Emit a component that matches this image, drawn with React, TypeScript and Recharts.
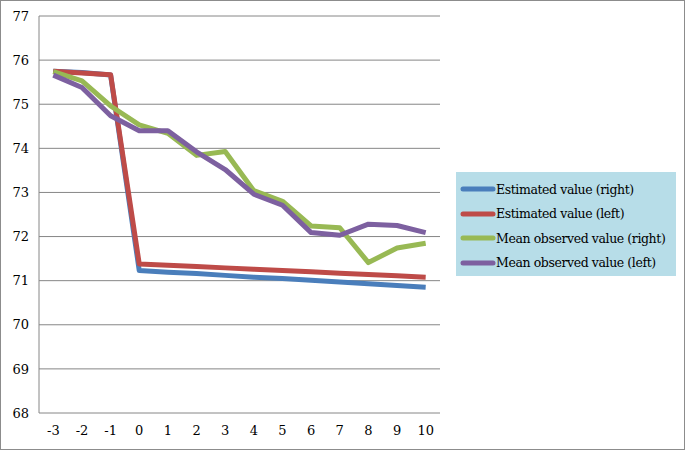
import React from "react";
import { LineChart, Line, XAxis, YAxis, CartesianGrid, Legend } from "recharts";

const periods = [-3, -2, -1, 0, 1, 2, 3, 4, 5, 6, 7, 8, 9, 10];
const estimatedRight = [75.75, 75.72, 75.66, 71.23, 71.19, 71.16, 71.12, 71.08, 71.05, 71.01, 70.97, 70.93, 70.89, 70.85];
const estimatedLeft = [75.75, 75.71, 75.67, 71.38, 71.35, 71.32, 71.29, 71.26, 71.23, 71.2, 71.17, 71.14, 71.11, 71.08];
const meanObservedRight = [75.74, 75.53, 74.96, 74.53, 74.34, 73.84, 73.93, 73.04, 72.8, 72.24, 72.2, 71.41, 71.74, 71.85];
const meanObservedLeft = [75.66, 75.38, 74.74, 74.4, 74.4, 73.92, 73.52, 72.96, 72.71, 72.09, 72.03, 72.28, 72.25, 72.09];
const yTicks = [68, 69, 70, 71, 72, 73, 74, 75, 76, 77];
const boundaryTicks = [...periods.map((p) => p - 0.5), periods[periods.length - 1] + 0.5];

const series = [
  { key: "er", name: "Estimated value (right)", color: "#4a7ebb", values: estimatedRight },
  { key: "el", name: "Estimated value (left)", color: "#be4b48", values: estimatedLeft },
  { key: "mr", name: "Mean observed value (right)", color: "#98b954", values: meanObservedRight },
  { key: "ml", name: "Mean observed value (left)", color: "#7d60a0", values: meanObservedLeft },
];

const data = periods.map((p, i) => {
  const row: Record<string, number> = { x: p };
  series.forEach((s) => {
    row[s.key] = s.values[i];
  });
  return row;
});

const FONT = "'DejaVu Serif', serif";
const GRAY = "#868686";

const BoundaryTick = (props: any) => {
  const { x, y } = props;
  return <line x1={x} x2={x} y1={y} y2={y - 4} stroke={GRAY} strokeWidth={1} />;
};

const LegendContent = () => (
  <div
    style={{
      background: "#b7dde8",
      width: 220,
      height: 104,
      boxSizing: "border-box",
      padding: "5px 0 0 4px",
      fontFamily: FONT,
      fontSize: 12.5,
      color: "#000",
      textAlign: "left",
    }}
  >
    {series.map((s) => (
      <div key={s.key} style={{ display: "flex", alignItems: "center", height: 24.5 }}>
        <svg width={36} height={8} style={{ display: "block" }}>
          <line x1={3} x2={33} y1={4} y2={4} stroke={s.color} strokeWidth={5} strokeLinecap="round" />
        </svg>
        <span style={{ whiteSpace: "nowrap", letterSpacing: -0.4 }}>{s.name}</span>
      </div>
    ))}
  </div>
);

export default function App() {
  return (
    <div style={{ position: "absolute", left: 0, top: 0, width: 685, height: 450, background: "#fff" }}>
      <LineChart width={685} height={450} data={data} margin={{ top: 16, right: 245, bottom: 7, left: 9 }}>
        <CartesianGrid horizontal vertical={false} stroke={GRAY} strokeWidth={1} />
        <XAxis
          xAxisId="bounds"
          type="number"
          domain={[boundaryTicks[0], boundaryTicks[boundaryTicks.length - 1]]}
          ticks={boundaryTicks}
          allowDataOverflow
          height={0}
          tickSize={0}
          tickMargin={0}
          tickLine={false}
          tick={<BoundaryTick />}
          axisLine={{ stroke: GRAY, strokeWidth: 1 }}
          interval={0}
        />
        <XAxis
          dataKey="x"
          type="number"
          domain={[boundaryTicks[0], boundaryTicks[boundaryTicks.length - 1]]}
          ticks={periods}
          interval={0}
          allowDataOverflow
          height={30}
          axisLine={false}
          tickLine={false}
          tickMargin={7}
          tick={{ fill: "#000", fontFamily: FONT, fontSize: 13 }}
        />
        <YAxis
          domain={[68, 77]}
          ticks={yTicks}
          interval={0}
          width={30}
          axisLine={{ stroke: GRAY, strokeWidth: 1 }}
          tickLine={false}
          tickMargin={4}
          tick={{ fill: "#000", fontFamily: FONT, fontSize: 13 }}
        />
        {series.map((s) => (
          <Line
            key={s.key}
            type="linear"
            dataKey={s.key}
            name={s.name}
            stroke={s.color}
            strokeWidth={5}
            dot={false}
            isAnimationActive={false}
            strokeLinejoin="round"
          />
        ))}
        <Legend
          layout="horizontal"
          verticalAlign="middle"
          align="center"
          content={<LegendContent />}
          wrapperStyle={{ position: "absolute", left: 456, top: 172, width: 220, height: 104 }}
        />
      </LineChart>
      <div
        style={{
          position: "absolute",
          left: 0,
          top: 0,
          width: 685,
          height: 450,
          boxSizing: "border-box",
          border: "1px solid #8c8c8c",
          pointerEvents: "none",
        }}
      />
    </div>
  );
}
